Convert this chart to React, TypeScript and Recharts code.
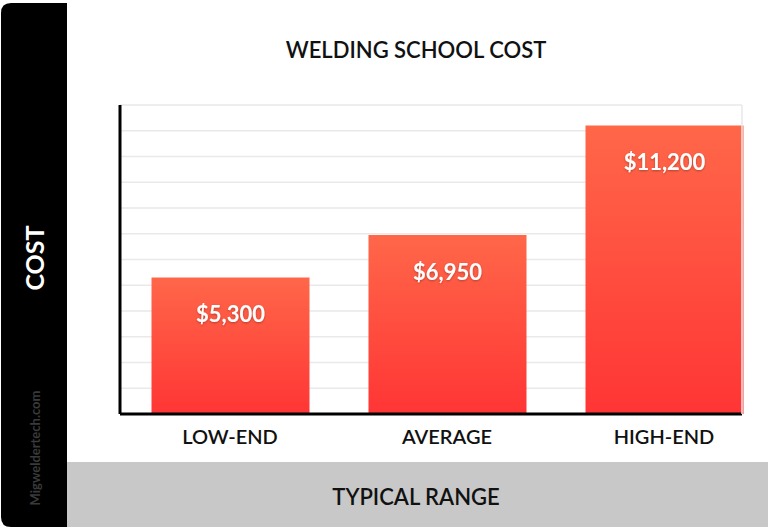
import React from "react";
import { BarChart, Bar, XAxis, YAxis, CartesianGrid, LabelList } from "recharts";

const categories = ["LOW-END", "AVERAGE", "HIGH-END"];
const costs = [5300, 6950, 11200];
const yTicks = [0, 1000, 2000, 3000, 4000, 5000, 6000, 7000, 8000, 9000, 10000, 11000, 12000];
const title = "WELDING SCHOOL COST";
const yTitle = "COST";
const xTitle = "TYPICAL RANGE";
const watermark = "Migweldertech.com";

const data = categories.map((c, i) => ({ name: c, cost: costs[i] }));

const FONT = "Lato, 'Open Sans', sans-serif";

const EmptyTick = () => <g />;

const BarLabel = (props: any) => {
  const { x, y, width, value } = props;
  return (
    <text
      x={x + width / 2}
      y={y + 36}
      textAnchor="middle"
      dominantBaseline="central"
      fill="#fff"
      fontSize={22}
      fontWeight={700}
      fontFamily={FONT}
      filter="url(#txtShadow)"
    >
      {"$" + Number(value).toLocaleString("en-US")}
    </text>
  );
};

export default function App() {
  return (
    <div style={{ position: "absolute", left: 0, top: 0, width: 768, height: 529, background: "#fff" }}>
      <svg width={768} height={529} style={{ position: "absolute", left: 0, top: 0 }}>
        <path d="M11 3 H67 V527 H11 Q1 527 1 517 V13 Q1 3 11 3 Z" fill="#000" />
        <rect x={67} y={462} width={701} height={65} fill="#c8c8c8" />
        <text x={416} y={49} textAnchor="middle" dominantBaseline="central" fontSize={22} fontWeight={600} fontFamily={FONT} fill="#111">
          {title}
        </text>
        <text x={416} y={496} textAnchor="middle" dominantBaseline="central" fontSize={22} fontWeight={600} fontFamily={FONT} fill="#111">
          {xTitle}
        </text>
        <text x={34} y={258} textAnchor="middle" dominantBaseline="central" fontSize={25} fontWeight={700} fontFamily={FONT} fill="#fff" transform="rotate(-90 34 258)">
          {yTitle}
        </text>
        <text x={35} y={448} textAnchor="middle" dominantBaseline="central" fontSize={13} fontWeight={700} fontFamily={FONT} fill="#3a3a3a" transform="rotate(-90 35 448)">
          {watermark}
        </text>
      </svg>
      <div style={{ position: "absolute", left: 0, top: 0 }}>
        <BarChart width={768} height={529} data={data} margin={{ top: 105, right: 24, bottom: 67, left: 60 }}>
          <defs>
            <linearGradient id="barGrad" x1="0" y1="0" x2="0" y2="1">
              <stop offset="0%" stopColor="#ff6749" />
              <stop offset="100%" stopColor="#ff3535" />
            </linearGradient>
            <filter id="txtShadow" x="-20%" y="-30%" width="140%" height="160%">
              <feDropShadow dx="0" dy="1" stdDeviation="1.2" floodColor="#000" floodOpacity="0.3" />
            </filter>
          </defs>
          <CartesianGrid vertical={false} yAxisId="l" stroke="#e9e9e9" strokeWidth={1.5} />
          <XAxis
            dataKey="name"
            height={48}
            padding={{ left: 1.5, right: -30.5 }}
            axisLine={{ stroke: "#000", strokeWidth: 3 }}
            tickLine={false}
            tick={{ fill: "#111", fontSize: 20, fontWeight: 600, fontFamily: FONT }}
            tickMargin={10}
            interval={0}
          />
          <YAxis
            yAxisId="l"
            width={60}
            type="number"
            domain={[0, 12000]}
            ticks={yTicks}
            interval={0}
            tick={EmptyTick}
            tickLine={false}
            axisLine={{ stroke: "#000", strokeWidth: 3 }}
          />
          <YAxis
            yAxisId="r"
            orientation="right"
            width={2}
            domain={[0, 12000]}
            tick={false}
            tickLine={false}
            axisLine={{ stroke: "#e9e9e9", strokeWidth: 1.5 }}
          />
          <Bar yAxisId="l" dataKey="cost" fill="url(#barGrad)" barSize={158} isAnimationActive={false}>
            <LabelList dataKey="cost" content={BarLabel} />
          </Bar>
        </BarChart>
      </div>
    </div>
  );
}
